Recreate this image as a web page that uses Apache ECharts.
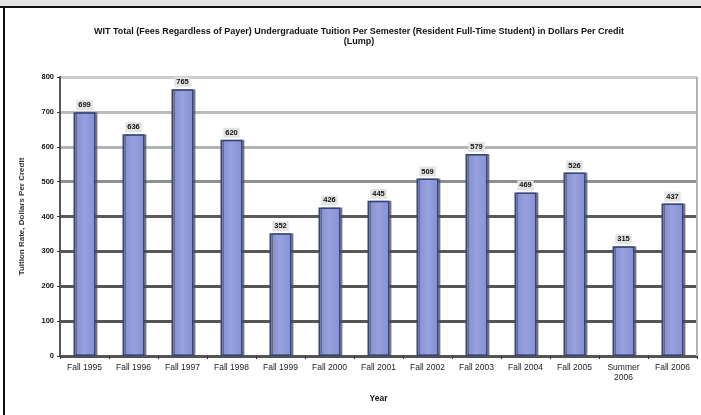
<!DOCTYPE html>
<html>
<head>
<meta charset="utf-8">
<script src="https://cdn.jsdelivr.net/npm/echarts@6/dist/echarts.min.js"></script>
<style>
html,body{margin:0;padding:0;background:#fff;}
#c{width:701px;height:415px;}
</style>
</head>
<body>
<div id="c"></div>
<script>
var categories = ['Fall 1995','Fall 1996','Fall 1997','Fall 1998','Fall 1999','Fall 2000','Fall 2001','Fall 2002','Fall 2003','Fall 2004','Fall 2005','Summer\n2006','Fall 2006'];
var values = [699, 636, 765, 620, 352, 426, 445, 509, 579, 469, 526, 315, 437];
var yTicks = [0, 100, 200, 300, 400, 500, 600, 700, 800];
var titleLines = ['WIT Total (Fees Regardless of Payer) Undergraduate Tuition Per Semester (Resident Full-Time Student) in Dollars Per Credit', '(Lump)'];
var yAxisName = 'Tuition Rate, Dollars Per Credit';
var xAxisName = 'Year';

var chart = echarts.init(document.getElementById('c'), null, {renderer:'canvas'});
var gridColors = ['#505050','#555555','#555555','#585858','#5a5a5a','#8c9090','#b0b4b4','#b8bcbc','#c8cccc'];
chart.setOption({
  backgroundColor:'#ffffff',
  animation:false,
  title:{
    text: titleLines.join('\n'),
    left: 354, top: 22, textAlign:'center',
    textStyle:{fontFamily:'Arial, Liberation Sans', fontSize:9, fontWeight:'bold', color:'#111', lineHeight:10}
  },
  graphic:[
    {type:'rect', shape:{x:0,y:0,width:701,height:6}, style:{fill:'#e4e4e4'}, z:100},
    {type:'line', shape:{x1:0,y1:7,x2:701,y2:7}, style:{stroke:'#111',lineWidth:2}, z:100},
    {type:'line', shape:{x1:4,y1:7,x2:4,y2:415}, style:{stroke:'#111',lineWidth:2}, z:100},
    {type:'line', shape:{x1:697,y1:77,x2:697,y2:356}, style:{stroke:'#b0b4b4',lineWidth:2}, z:1}
  ],
  grid:{left:60, right:4, top:77, bottom:59, containLabel:false},
  xAxis:{
    type:'category', data:categories,
    name:xAxisName, nameLocation:'middle', nameGap:38,
    nameTextStyle:{fontFamily:'Arial, Liberation Sans', fontSize:8.5, fontWeight:'bold', color:'#111'},
    axisLine:{lineStyle:{color:'#555', width:2}},
    axisTick:{show:true, length:3, lineStyle:{color:'#333', width:1}},
    axisLabel:{fontFamily:'Arial, Liberation Sans', fontSize:8.5, color:'#222', margin:7, interval:0, lineHeight:10}
  },
  yAxis:{
    type:'value', min:yTicks[0], max:yTicks[yTicks.length-1], interval:100,
    name:yAxisName, nameLocation:'middle', nameGap:34, nameRotate:90,
    nameTextStyle:{fontFamily:'Arial, Liberation Sans', fontSize:8, fontWeight:'bold', color:'#333'},
    axisLine:{show:true, lineStyle:{color:'#555', width:2}},
    axisTick:{show:true, length:3, lineStyle:{color:'#333'}},
    axisLabel:{fontFamily:'Arial, Liberation Sans', fontSize:7.5, fontWeight:'bold', color:'#111', margin:6},
    splitLine:{show:true, lineStyle:{color:gridColors, width:3}}
  },
  series:[{
    type:'bar', data:values, barWidth:22,
    itemStyle:{
      color:{type:'linear', x:0,y:0,x2:1,y2:0, colorStops:[{offset:0,color:'#7f8cd0'},{offset:0.5,color:'#97a2de'},{offset:1,color:'#8390d2'}]},
      borderColor:'#34447c', borderWidth:1.5,
      shadowColor:'rgba(80,80,80,0.6)', shadowOffsetX:2, shadowBlur:0
    },
    label:{
      show:true, position:'top', distance:2,
      fontFamily:'Arial, Liberation Sans', fontSize:7.5, fontWeight:'bold', color:'#111',
      backgroundColor:'#e2e4e4', padding:[1,2,1,2]
    }
  }]
});
</script>
</body>
</html>
